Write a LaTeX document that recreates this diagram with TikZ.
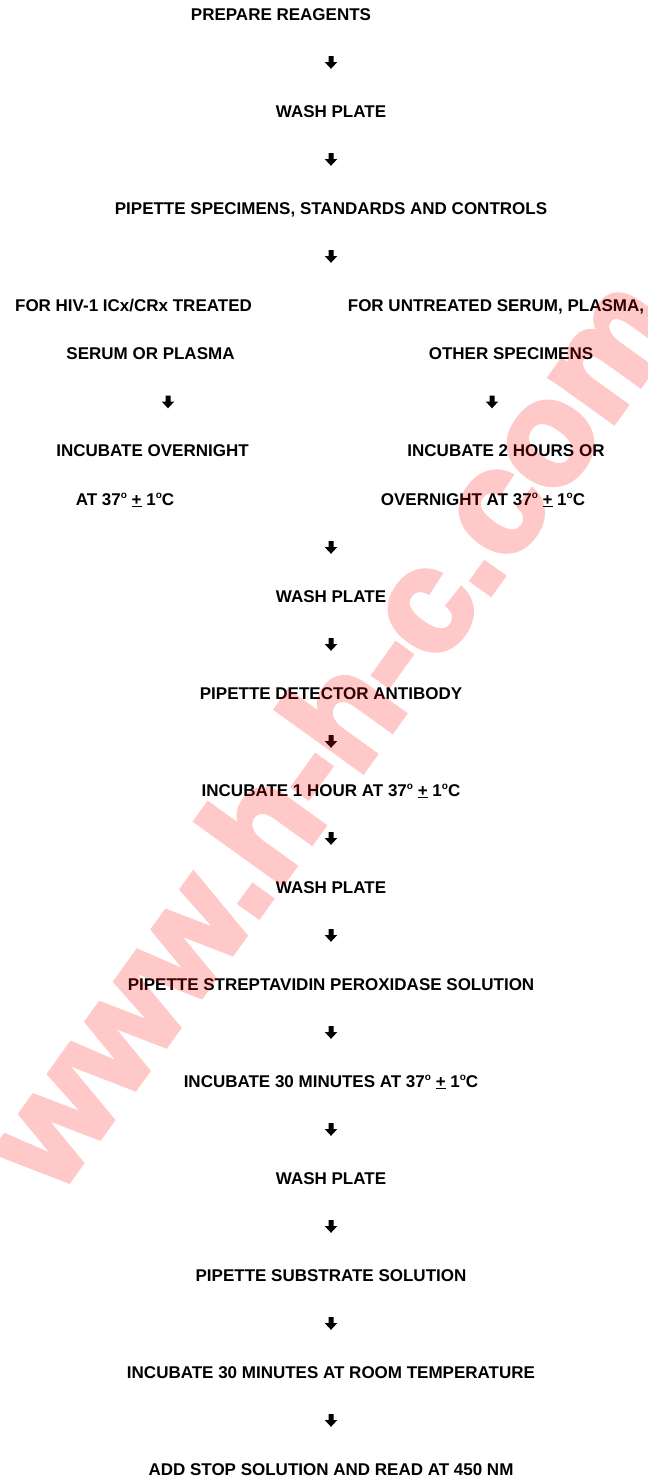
\documentclass[tikz,border=0pt]{standalone}
\usepackage{fontspec}
\setmainfont{Liberation Sans}
\newfontfamily\wmfont[FakeBold=4]{Liberation Sans Bold}
\newcommand\plusmin{\underline{+}}
\newcommand\ordo{\raisebox{.4em}{\fontsize{10}{10}\selectfont o}}
\tikzset{
  lbl/.style={anchor=base, font=\bfseries\fontsize{17}{20}\selectfont, inner sep=0pt},
  darr/.pic={\fill[black] (-2.5,-6.5) -- (2.5,-6.5) -- (2.5,-0.5) -- (6.3,-0.5) -- (0,6.3) -- (-6.3,-0.5) -- (-2.5,-0.5) -- cycle;},
  wmark/.style={font=\wmfont\fontsize{146}{146}\selectfont, text=red, inner sep=0pt, rotate=54.3}
}
\begin{document}
\begin{tikzpicture}[x=1pt,y=-1pt]
\useasboundingbox (0,0) rectangle (648,1481);
\clip (0,0) rectangle (648,1481);
\fill[white] (0,0) rectangle (648,1481);
% main column
\node[lbl] (n0) at (281,20.1) {PREPARE REAGENTS};
\pic (a1) at (331,62.5) {darr};
\node[lbl] (n2) at (331,117.1) {WASH PLATE};
\pic (a3) at (331,159.5) {darr};
\node[lbl] (n4) at (331,214.1) {PIPETTE SPECIMENS, STANDARDS AND CONTROLS};
\pic (a5) at (331,256.5) {darr};
% left branch
\node[lbl] (l6) at (133.5,311.1) {FOR HIV-1 ICx/CRx TREATED};
\node[lbl] (l7) at (150.5,359.6) {SERUM OR PLASMA};
\pic (la8) at (168,402) {darr};
\node[lbl] (l9) at (152.5,456.6) {INCUBATE OVERNIGHT};
\node[lbl] (l10) at (125,505.1) {AT 37\ordo{} \plusmin{} 1\ordo C};
% right branch
\node[lbl] (r6) at (496,311.1) {FOR UNTREATED SERUM, PLASMA,};
\node[lbl] (r7) at (511,359.6) {OTHER SPECIMENS};
\pic (ra8) at (492,402) {darr};
\node[lbl] (r9) at (506,456.6) {INCUBATE 2 HOURS OR};
\node[lbl] (r10) at (483,505.1) {OVERNIGHT AT 37\ordo{} \plusmin{} 1\ordo C};
% main column again
\pic (a11) at (331,547.5) {darr};
\node[lbl] (n12) at (331,602.1) {WASH PLATE};
\pic (a13) at (331,644.5) {darr};
\node[lbl] (n14) at (331,699.1) {PIPETTE DETECTOR ANTIBODY};
\pic (a15) at (331,741.5) {darr};
\node[lbl] (n16) at (331,796.1) {INCUBATE 1 HOUR AT 37\ordo{} \plusmin{} 1\ordo C};
\pic (a17) at (331,838.5) {darr};
\node[lbl] (n18) at (331,893.1) {WASH PLATE};
\pic (a19) at (331,935.5) {darr};
\node[lbl] (n20) at (331,990.1) {PIPETTE STREPTAVIDIN PEROXIDASE SOLUTION};
\pic (a21) at (331,1032.5) {darr};
\node[lbl] (n22) at (331,1087.1) {INCUBATE 30 MINUTES AT 37\ordo{} \plusmin{} 1\ordo C};
\pic (a23) at (331,1129.5) {darr};
\node[lbl] (n24) at (331,1184.1) {WASH PLATE};
\pic (a25) at (331,1226.5) {darr};
\node[lbl] (n26) at (331,1281.1) {PIPETTE SUBSTRATE SOLUTION};
\pic (a27) at (331,1323.5) {darr};
\node[lbl] (n28) at (331,1378.1) {INCUBATE 30 MINUTES AT ROOM TEMPERATURE};
\pic (a29) at (331,1420.5) {darr};
\node[lbl] (n30) at (331,1475.1) {ADD STOP SOLUTION AND READ AT 450 NM};
% watermark
\begin{scope}[transparency group, opacity=0.21]
\node[wmark] (wm) at (328,730) {www.h-h-c.com};
\end{scope}
\end{tikzpicture}
\end{document}
